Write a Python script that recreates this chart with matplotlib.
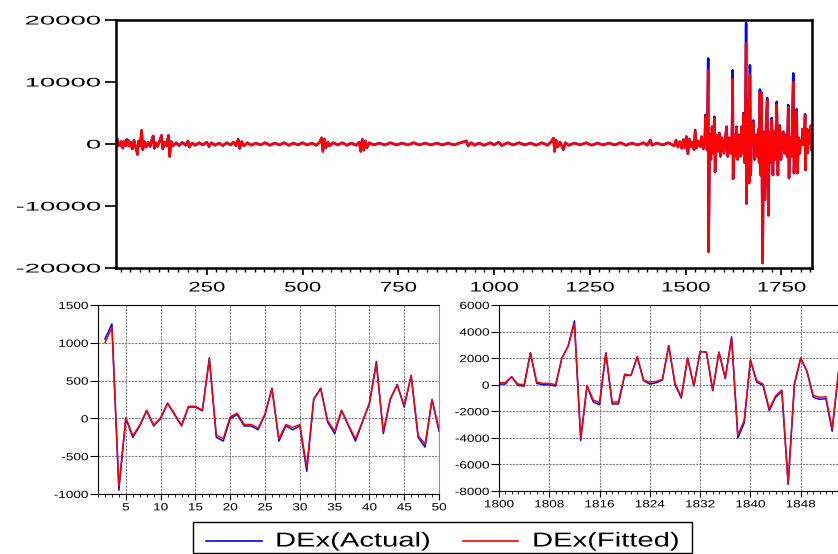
import matplotlib
matplotlib.use('Agg')
import matplotlib.pyplot as plt
from matplotlib.patheffects import AbstractPathEffect
from matplotlib.transforms import Affine2D
from matplotlib.patches import Rectangle
from matplotlib.lines import Line2D
from matplotlib.ticker import MultipleLocator

# ---- data ----
# bottom left: observations 2..50
first_obs = list(range(2, 51))
first_actual = [1050, 1250, -950, 0, -250, -100, 100, -100, 0, 200,
                50, -100, 150, 150, 100, 800, -250, -300, 0, 50,
                -100, -100, -150, 50, 400, -300, -100, -150, -100, -700,
                250, 400, -50, -200, 100, -100, -300, -50, 200, 750,
                -200, 250, 450, 150, 570, -250, -380, 250, -170]
first_fitted = [1000, 1200, -900, 10, -230, -90, 110, -90, 10, 200,
                60, -90, 160, 160, 110, 780, -220, -270, 20, 70,
                -80, -80, -130, 60, 390, -270, -80, -120, -80, -650,
                260, 390, -30, -170, 110, -90, -270, -40, 200, 720,
                -170, 260, 440, 170, 560, -230, -340, 250, -140]

# bottom right: observations 1800..1854
last_obs = list(range(1800, 1855))
last_actual = [50, 50, 600, -50, -100, 2400, 100, 0, 0, -100,
               2000, 2900, 4800, -4200, -100, -1300, -1500, 2400, -1450, -1450,
               700, 700, 2100, 300, 50, 150, 350, 2950, 0, -1000,
               2000, -100, 2500, 2450, -450, 2450, 450, 3600, -4000, -2900,
               1850, 200, -50, -1950, -950, -500, -7500, 0, 2000, 1000,
               -950, -1100, -1050, -3500, 900]
last_fitted = [150, 150, 600, 50, 0, 2400, 200, 100, 100, 0,
               2000, 2900, 4600, -4000, -50, -1150, -1350, 2400, -1300, -1300,
               800, 700, 2100, 350, 200, 250, 400, 2950, 100, -900,
               2000, -50, 2500, 2450, -400, 2450, 500, 3500, -3800, -2700,
               1850, 300, 50, -1800, -850, -400, -7400, 100, 2000, 1000,
               -800, -950, -900, -3300, 900]

# top panel, quiet stretch (actual and fitted overlap at this scale)
quiet_obs = [51, 56, 60, 64, 69, 72, 76, 80, 83, 87, 92, 97, 102, 106, 110, 113,
             117, 121, 126, 132, 135, 140, 145, 150, 153, 157, 162, 170, 178, 186,
             195, 201, 204, 212, 220, 230, 240, 250, 256, 262, 272, 282, 292, 302,
             312, 320, 326, 332, 336, 341, 347, 356, 366, 378, 390, 402, 415, 428,
             440, 452, 464, 476, 488, 500, 512, 524, 536, 545, 550, 553, 557, 561,
             566, 570, 580, 592, 604, 616, 628, 640, 648, 652, 656, 660, 664, 668,
             674, 686, 700, 715, 730, 745, 760, 775, 790, 805, 820, 835, 850, 865,
             880, 895, 910, 928, 932, 940, 950, 960, 975, 990, 1000, 1012, 1020,
             1035, 1050, 1065, 1080, 1095, 1110, 1125, 1140, 1150, 1155, 1158,
             1162, 1166, 1172, 1181, 1186, 1195, 1210, 1225, 1240, 1255, 1270,
             1285, 1300, 1315, 1330, 1345, 1360, 1375, 1390, 1400, 1408, 1412,
             1425, 1440, 1455, 1470, 1475, 1480, 1485, 1490, 1494, 1498, 1502,
             1506, 1510, 1514]
quiet_vals = [300, -800, 600, -400, -1700, 500, -300, 2200, -900, 400, -500, 300,
              -400, 500, 1300, -700, 200, -400, 300, 1400, -800, 300, -300, 1400,
              -2000, 400, -300, 200, -250, 250, -200, 500, -500, 150, -200, 200,
              -150, 300, -400, 200, -200, 150, -250, 200, -150, 300, -300, 750,
              -700, 400, -300, 200, -200, 150, -150, 200, -200, 150, -150, 200,
              -200, 150, -150, 200, -150, 150, -200, 300, 1000, -1200, 800, -600,
              300, -300, 200, -150, 200, -200, 150, -200, 300, -1200, 750, -1000,
              500, -600, 200, -150, 150, -150, 200, -150, 150, -150, 200, -150,
              150, -150, 150, -150, 150, -150, 150, 500, -300, 200, -200, 150,
              -200, 200, -150, 300, -250, 200, -150, 200, -150, 150, -200, 200,
              -200, 400, 950, -1200, 600, -500, 300, -900, 200, -200, 150, -150,
              200, -200, 150, -150, 150, -150, 200, -200, 150, -150, 200, -200,
              650, -200, 150, -150, 200, -300, 600, -500, 400, -700, 700, -600,
              1200, -1600, 800, -400]

# top panel, volatile stretch
burst_obs = [1518, 1522, 1525, 1529, 1533, 1538, 1542, 1546, 1550, 1552, 1556,
             1559, 1560, 1563, 1566, 1569, 1572, 1575, 1577, 1580, 1584, 1588,
             1591, 1595, 1600, 1604, 1607, 1610, 1614, 1618, 1621, 1623, 1624,
             1627, 1630, 1633, 1636, 1640, 1643, 1646, 1649, 1651, 1654, 1656,
             1658, 1659, 1662, 1664, 1666, 1668, 1670, 1673, 1677, 1680, 1684,
             1687, 1690, 1692, 1694, 1696, 1698, 1701, 1704, 1707, 1710, 1713,
             1716, 1719, 1722, 1725, 1728, 1731, 1734, 1738, 1741, 1743, 1746,
             1749, 1752, 1755, 1758, 1762, 1765, 1768, 1770, 1773, 1776, 1778,
             1781, 1783, 1786, 1790, 1792, 1795, 1798]
burst_actual = [300, -900, 2260, -600, 500, -400, 1200, -800, 600, 4700, -1000,
                13800, -17400, 1500, -2500, 2800, -1500, 4400, -4500, 1500, -1200,
                1800, -2000, 1000, -1500, 1200, 2800, -2000, 1000, -1500, 1500,
                11900, -5600, 1500, -2000, 2800, -2500, 1500, -2000, 2800, -1500,
                5000, -3000, 3000, 19500, -9600, 4000, 7100, -6300, 12700, -5000,
                3000, 3800, -2500, 1500, -2000, 2400, -3000, 8800, -5000, 8300,
                -19200, 2000, -9000, 3000, 7400, -11500, 2000, -3000, 4200, -5000,
                2000, -2500, 6800, -5000, 1500, 3000, -2500, 1500, 2000, -1500,
                1500, -2000, 6300, -5500, 1000, -2000, 2000, 11400, -4700, 2000,
                5600, -4700, 1000, -1500]
burst_fitted = [300, -900, 2100, -600, 500, -400, 1150, -800, 600, 4400, -1000,
                11900, -17400, 1400, -2500, 2700, -1500, 4100, -4500, 1400, -1200,
                1700, -2000, 1000, -1500, 1100, 2700, -2000, 1000, -1500, 1400,
                10500, -5600, 1400, -2000, 2700, -2500, 1400, -2000, 2700, -1500,
                4800, -3000, 2900, 16200, -9600, 3800, 6800, -6300, 11100, -5000,
                2900, 3600, -2500, 1400, -2000, 2300, -3000, 8300, -5000, 8000,
                -19200, 1900, -9000, 2900, 7000, -11500, 1900, -3000, 3900, -5000,
                1900, -2500, 6400, -5000, 1400, 2900, -2500, 1400, 1900, -1500,
                1400, -2000, 5900, -5500, 1000, -2000, 1900, 10000, -4700, 1900,
                5300, -4700, 1000, -1500]

top_yticks = [-20000, -10000, 0, 10000, 20000]
top_xticks = [250, 500, 750, 1000, 1250, 1500, 1750]
left_yticks = [-1000, -500, 0, 500, 1000, 1500]
left_xticks = [5, 10, 15, 20, 25, 30, 35, 40, 45, 50]
right_yticks = [-8000, -6000, -4000, -2000, 0, 2000, 4000, 6000]
right_xticks = [1800, 1808, 1816, 1824, 1832, 1840, 1848]
legend_labels = ['DEx(Actual)', 'DEx(Fitted)']

BLUE = '#0000ff'
RED = '#ff0000'
W, H = 838, 554

plt.rcParams['font.family'] = ['Liberation Sans', 'DejaVu Sans']


class StretchX(AbstractPathEffect):
    # the reference glyphs are drawn wider than they are tall
    def __init__(self, sx, anchor='center'):
        super().__init__()
        self.sx = sx
        self.anchor = anchor

    def draw_path(self, renderer, gc, tpath, affine, rgbFace=None):
        xs = tpath.vertices[:, 0]
        if len(xs):
            if self.anchor == 'left':
                ref = 0
            elif self.anchor == 'right':
                ref = xs.max()
            else:
                ref = (xs.min() + xs.max()) / 2
            affine = Affine2D().translate(-ref, 0).scale(self.sx, 1).translate(ref, 0) + affine
        renderer.draw_path(gc, tpath, affine, rgbFace)


def stretch_labels(ax, sx):
    for lab in ax.get_xticklabels():
        lab.set_path_effects([StretchX(sx, 'center')])
    for lab in ax.get_yticklabels():
        lab.set_path_effects([StretchX(sx, 'right')])


def box(l, t, r, b):
    return [l / W, 1 - b / H, (r - l) / W, (b - t) / H]


fig = plt.figure(figsize=(W / 100, H / 100), dpi=100)

# ---- top: full sample ----
top_obs = first_obs + quiet_obs + burst_obs + last_obs
top_actual = first_actual + quiet_vals + burst_actual + last_actual
top_fitted = first_fitted + quiet_vals + burst_fitted + last_fitted

ax = fig.add_axes(box(116, 20, 812, 268))
ax.plot(top_obs, top_actual, color=BLUE, lw=1.8)
ax.plot(top_obs, top_fitted, color=RED, lw=1.8)
ax.set_xlim(13, 1830)
ax.set_ylim(-20000, 20000)
ax.set_yticks(top_yticks)
ax.set_xticks(top_xticks)
ax.xaxis.set_minor_locator(MultipleLocator(25))
for s in ax.spines.values():
    s.set_linewidth(1.8)
ax.tick_params(axis='y', direction='out', length=8, width=1.2, pad=3, labelsize=9)
ax.tick_params(axis='x', which='major', direction='out', length=5, width=1.2, pad=4, labelsize=10)
ax.tick_params(axis='x', which='minor', direction='out', length=3, width=1)
ax.yaxis.set_ticklabels([str(v) for v in top_yticks])
stretch_labels(ax, 2.2)
for lab in ax.get_xticklabels():
    lab.set_path_effects([StretchX(1.6, 'center')])


def small_panel(rect, x, actual, fitted, xlim, ylim, xticks, yticks, minor):
    a = fig.add_axes(rect)
    a.plot(x, actual, color=BLUE, lw=1.1)
    a.plot(x, fitted, color=RED, lw=1.1)
    a.set_xlim(*xlim)
    a.set_ylim(*ylim)
    a.set_xticks(xticks)
    a.set_yticks(yticks)
    a.xaxis.set_minor_locator(MultipleLocator(minor))
    a.grid(True, which='major', color='#808080', linestyle=(0, (2, 1)), lw=0.8)
    a.set_axisbelow(True)
    for s in a.spines.values():
        s.set_linewidth(0.8)
    a.spines['right'].set_color('#909090')
    a.tick_params(axis='y', direction='out', length=6, width=0.8, pad=1, labelsize=7.5)
    a.tick_params(axis='x', which='major', direction='out', length=4, width=0.8, pad=2, labelsize=7.5)
    a.tick_params(axis='x', which='minor', direction='out', length=2.5, width=0.6)
    a.yaxis.set_ticklabels([str(v) for v in yticks])
    stretch_labels(a, 1.3)
    return a


small_panel(box(98, 305, 439, 494), first_obs, first_actual, first_fitted,
            (1, 50), (-1000, 1500), left_xticks, left_yticks, 1)
small_panel(box(499, 305, 851, 491), last_obs, last_actual, last_fitted,
            (1800, 1856), (-8000, 6000), right_xticks, right_yticks, 1)

# ---- legend ----
fig.add_artist(Rectangle((193 / W, 1 - 553 / H), 499 / W, 31 / H,
                         transform=fig.transFigure, fill=False, ec='black', lw=1))
for (x0, x1, tx), col, lab in zip([(206, 262, 275), (463, 518, 532)], [BLUE, RED], legend_labels):
    fig.add_artist(Line2D([x0 / W, x1 / W], [1 - 541 / H] * 2, transform=fig.transFigure,
                          color=col, lw=1.2))
    fig.text(tx / W, 1 - 541 / H, lab, fontsize=14.5, va='center', ha='left',
             path_effects=[StretchX(1.45, 'left')])

fig.savefig('out.png', dpi=100)
